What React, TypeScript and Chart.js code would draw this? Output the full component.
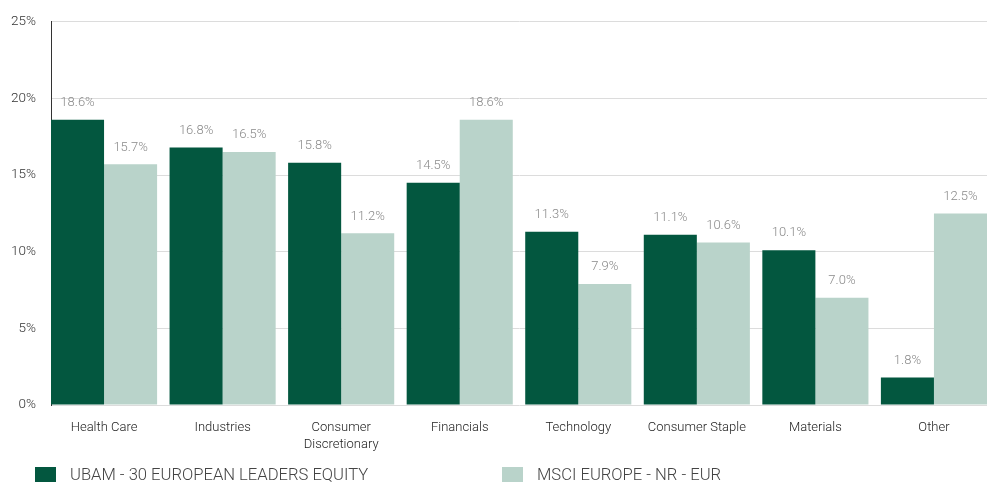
import React, { useEffect, useRef } from "react";
import { Chart, registerables } from "chart.js";

Chart.register(...registerables);

const categories: (string | string[])[] = [
  "Health Care",
  "Industries",
  ["Consumer", "Discretionary"],
  "Financials",
  "Technology",
  "Consumer Staple",
  "Materials",
  "Other",
];
const fundLabel = "UBAM - 30 EUROPEAN LEADERS EQUITY";
const benchLabel = "MSCI EUROPE - NR - EUR";
const fundValues = [18.6, 16.8, 15.8, 14.5, 11.3, 11.1, 10.1, 1.8];
const benchValues = [15.7, 16.5, 11.2, 18.6, 7.9, 10.6, 7.0, 12.5];
const yTicks = [0, 5, 10, 15, 20, 25];

const DARK = "#03573F";
const LIGHT = "#B9D3CA";
const FONT = "Roboto, 'Liberation Sans', Arial, sans-serif";
const GROUP = 0.895;

const valueLabels = {
  id: "valueLabels",
  afterDatasetsDraw(chart: any) {
    const ctx = chart.ctx;
    ctx.save();
    ctx.font = `300 13px ${FONT}`;
    ctx.fillStyle = "#8a8a8a";
    ctx.textAlign = "center";
    ctx.textBaseline = "middle";
    chart.data.datasets.forEach((ds: any, i: number) => {
      const meta = chart.getDatasetMeta(i);
      meta.data.forEach((bar: any, j: number) => {
        ctx.fillText(ds.data[j].y.toFixed(1) + "%", bar.x, bar.y - 17);
      });
    });
    ctx.restore();
  },
};

export default function App() {
  const ref = useRef<HTMLCanvasElement>(null);
  useEffect(() => {
    if (!ref.current) return;
    const chart = new Chart(ref.current, {
      type: "bar",
      data: {
        datasets: [
          {
            label: fundLabel,
            data: fundValues.map((v, i) => ({ x: i, y: v })),
            backgroundColor: DARK,
          },
          {
            label: benchLabel,
            data: benchValues.map((v, i) => ({ x: i, y: v })),
            backgroundColor: LIGHT,
          },
        ],
      },
      options: {
        animation: false,
        responsive: false,
        maintainAspectRatio: false,
        layout: { padding: { top: 20, right: 7, left: 0, bottom: 0 } },
        datasets: { bar: { categoryPercentage: GROUP, barPercentage: 1 } },
        plugins: { legend: { display: false }, tooltip: { enabled: false } },
        scales: {
          x: {
            type: "linear",
            offset: false,
            min: -GROUP / 2,
            max: categories.length - 1 + GROUP / 2,
            afterBuildTicks: (s: any) => {
              s.ticks = categories.map((_, i) => ({ value: i }));
            },
            grid: { display: false },
            border: { display: false },
            ticks: {
              color: "#222",
              font: { family: FONT, size: 13, weight: 300, lineHeight: 1.3 },
              padding: 6,
              maxRotation: 0,
              autoSkip: false,
              callback: (v: any) => categories[Math.round(v)] ?? "",
            },
            afterFit: (s: any) => {
              s.height = 50;
            },
          },
          y: {
            min: 0,
            max: 25,
            afterBuildTicks: (s: any) => {
              s.ticks = yTicks.map((v) => ({ value: v }));
            },
            grid: { color: "#dcdcdc", drawTicks: false },
            border: { display: true, color: "#333", width: 1 },
            ticks: {
              color: "#333",
              font: { family: FONT, size: 13.5, weight: 300, lineHeight: 1 },
              padding: 15,
              callback: (v: any) => v + "%",
            },
            afterFit: (s: any) => {
              s.width = 51;
            },
          },
        },
      },
      plugins: [valueLabels],
    });
    return () => chart.destroy();
  }, []);

  const legendItem = (color: string, text: string, left: number) => (
    <div
      style={{
        position: "absolute",
        left,
        top: 467,
        display: "flex",
        alignItems: "center",
        height: 15,
      }}
    >
      <div style={{ width: 21, height: 15, background: color, marginRight: 14 }} />
      <span style={{ fontFamily: FONT, fontWeight: 300, fontSize: 16.6, color: "#444", whiteSpace: "nowrap" }}>{text}</span>
    </div>
  );

  return (
    <div style={{ position: "fixed", left: 0, top: 0, width: 994, height: 482, background: "#fff" }}>
      <canvas ref={ref} width={994} height={455} style={{ position: "absolute", left: 0, top: 0 }} />
      {legendItem(DARK, fundLabel, 35)}
      {legendItem(LIGHT, benchLabel, 502)}
    </div>
  );
}
